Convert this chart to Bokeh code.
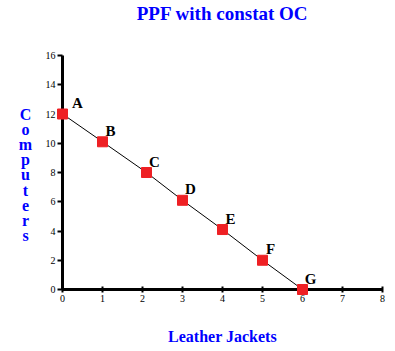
from bokeh.plotting import figure
from bokeh.models import Label, ColumnDataSource, Range1d, FixedTicker
from bokeh.core.properties import value
from bokeh.embed import file_html
from bokeh.resources import INLINE

# data
jackets = [0, 1, 2.1, 3, 4, 5, 6]
computers = [12, 10.1, 8, 6.1, 4.1, 2, 0]
point_names = ["A", "B", "C", "D", "E", "F", "G"]
x_ticks = [0, 1, 2, 3, 4, 5, 6, 7, 8]
y_ticks = [0, 2, 4, 6, 8, 10, 12, 14, 16]
title_text = "PPF with constat OC"
x_label_text = "Leather Jackets"
y_label_text = "Computers"

SERIF = "Liberation Serif"
BLUE = "#0000FF"
RED = "#EE2024"

W, H = 395, 351
X0, XPX = 62, 40.0      # pixel of x=0, pixels per unit
Y0, YPX = 289, 14.625   # pixel of y=0, pixels per unit

p = figure(width=W, height=H, output_backend="svg", toolbar_location=None,
           x_range=Range1d(-X0 / XPX, (W - X0) / XPX),
           y_range=Range1d(-(H - Y0) / YPX, Y0 / YPX),
           min_border=0)
p.outline_line_color = None
p.grid.visible = False
p.background_fill_color = "white"
p.border_fill_color = "white"

for ax in (p.xaxis[0], p.yaxis[0]):
    ax.fixed_location = 0
    ax.axis_line_width = 3
    ax.axis_line_color = "black"
    ax.major_tick_line_width = 2
    ax.major_tick_line_color = "black"
    ax.minor_tick_line_color = None
    ax.major_label_text_font = SERIF
    ax.major_label_text_font_size = "10px"
    ax.major_label_text_color = "black"
    ax.major_label_standoff = 2
p.xaxis.ticker = FixedTicker(ticks=x_ticks)
p.yaxis.ticker = FixedTicker(ticks=y_ticks)
p.xaxis.bounds = (x_ticks[0], x_ticks[-1])
p.yaxis.bounds = (y_ticks[0], y_ticks[-1])
p.xaxis.major_tick_in = 3
p.xaxis.major_tick_out = 3
p.yaxis.major_tick_in = 0
p.yaxis.major_tick_out = 5

src = ColumnDataSource(dict(x=jackets, y=computers, name=point_names,
                            xoff=[15 if n == "A" else 8 for n in point_names]))
p.line("x", "y", source=src, line_color="black", line_width=1, level="overlay")
p.scatter("x", "y", source=src, marker="square", size=10, fill_color=RED,
          line_color=RED, level="overlay")
p.text("x", "y", text="name", source=src, x_offset="xoff", y_offset=-11,
       text_font=value(SERIF), text_font_style="bold", text_font_size="15px",
       text_color="black", text_align="center", text_baseline="middle",
       level="overlay")

def px_to_x(px):
    return (px - X0) / XPX

def py_to_y(py):
    return (Y0 - py) / YPX

p.add_layout(Label(x=px_to_x(222), y=py_to_y(13), text=title_text,
                   text_font=SERIF, text_font_style="bold", text_font_size="19px",
                   text_color=BLUE, text_align="center", text_baseline="middle"))
p.add_layout(Label(x=px_to_x(222), y=py_to_y(336), text=x_label_text,
                   text_font=SERIF, text_font_style="bold", text_font_size="16px",
                   text_color=BLUE, text_align="center", text_baseline="middle"))
for i, ch in enumerate(y_label_text):
    p.add_layout(Label(x=px_to_x(25), y=py_to_y(114 + i * 15.1), text=ch,
                       text_font=SERIF, text_font_style="bold", text_font_size="16px",
                       text_color=BLUE, text_align="center", text_baseline="middle"))

open("out.html", "w").write(file_html(p, INLINE))
